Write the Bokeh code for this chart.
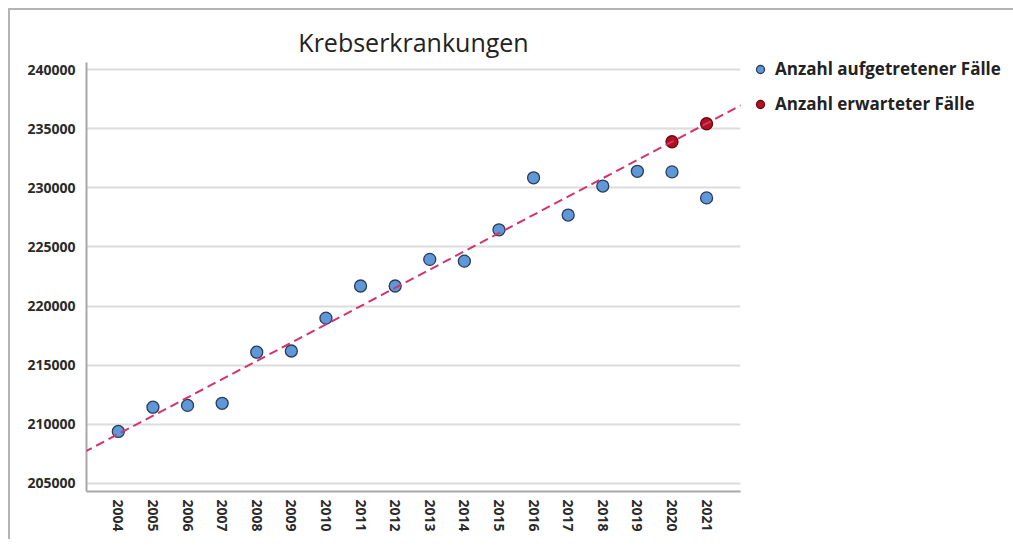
import math
from bokeh.plotting import figure
from bokeh.models import (Range1d, FixedTicker, BasicTickFormatter, Legend,
                          LegendItem, Slope, ColumnDataSource)
from bokeh.embed import file_html
from bokeh.resources import INLINE

# ---- data ----
years = [2004, 2005, 2006, 2007, 2008, 2009, 2010, 2011, 2012, 2013,
         2014, 2015, 2016, 2017, 2018, 2019, 2020, 2021]
observed = [209400, 211450, 211600, 211780, 216100, 216200, 218980, 221700,
            221700, 223950, 223800, 226450, 230850, 227700, 230150, 231400,
            231350, 229150]
expected_years = [2020, 2021]
expected = [233900, 235420]
trend_gradient = 1545
trend_intercept = 233900 - 1545 * 2020
y_ticks = [205000, 210000, 215000, 220000, 225000, 230000, 235000, 240000]
title_text = "Krebserkrankungen"
label_observed = "Anzahl aufgetretener Fälle"
label_expected = "Anzahl erwarteter Fälle"

FONT = "Open Sans"

p = figure(frame_width=654, frame_height=429, output_backend="svg",
           toolbar_location=None,
           x_range=Range1d(2003.08, 2021.98), y_range=Range1d(204320, 240600),
           min_border_left=76, min_border_right=272, min_border_top=52,
           min_border_bottom=48, title=title_text)
p.styles = {"margin-left": "8px", "margin-top": "8px",
            "border-top": "2px solid #b4b4b4", "border-left": "2px solid #b4b4b4"}

p.title.align = "center"
p.title.text_font = FONT
p.title.text_font_size = "25px"
p.title.text_font_style = "normal"
p.title.text_color = "#222222"
p.title.offset = -3
p.title.standoff = 8

p.outline_line_color = None
p.background_fill_color = "white"
p.border_fill_color = "white"

# grids
p.xgrid.grid_line_color = None
p.ygrid.ticker = FixedTicker(ticks=y_ticks)
p.ygrid.grid_line_color = "#dcdcdc"
p.ygrid.grid_line_width = 2

# axes
for ax in (p.xaxis[0], p.yaxis[0]):
    ax.axis_line_color = "#a8a8a8"
    ax.axis_line_width = 2
    ax.major_tick_line_color = None
    ax.minor_tick_line_color = None
    ax.major_label_text_font = FONT
    ax.major_label_text_font_style = "bold"
    ax.major_label_text_font_size = "14px"
    ax.major_label_text_color = "#2a2a2a"
    ax.formatter = BasicTickFormatter(use_scientific=False)

p.yaxis.ticker = FixedTicker(ticks=y_ticks)
p.yaxis.major_label_standoff = 5
p.xaxis.ticker = FixedTicker(ticks=years)
p.xaxis.major_label_orientation = -math.pi / 2
p.xaxis.major_label_standoff = 2

# trend line
trend = Slope(gradient=trend_gradient, y_intercept=trend_intercept,
              line_color="#d4336b", line_width=2, line_dash="9 5")
p.add_layout(trend)

src_obs = ColumnDataSource(dict(x=years, y=observed))
src_exp = ColumnDataSource(dict(x=expected_years, y=expected))

r_obs = p.scatter("x", "y", source=src_obs, size=12, marker="circle",
                  fill_color="#5e98d8", line_color="#2c3c58", line_width=1.3)
r_exp = p.scatter("x", "y", source=src_exp, size=12, marker="circle",
                  fill_color="#b3111f", line_color="#6b0a12", line_width=1.3)

legend = Legend(items=[LegendItem(label=label_observed, renderers=[r_obs]),
                       LegendItem(label=label_expected, renderers=[r_exp])],
                location=(10, 376), orientation="vertical")
legend.label_text_font = FONT
legend.label_text_font_style = "bold"
legend.label_text_font_size = "17px"
legend.label_text_color = "#222222"
legend.border_line_color = None
legend.background_fill_alpha = 0
legend.glyph_width = 20
legend.glyph_height = 20
legend.label_standoff = 5
legend.spacing = 12
legend.label_height = 20
legend.margin = 0
legend.padding = 0
p.add_layout(legend, "right")

open("out.html", "w").write(file_html(p, INLINE))
